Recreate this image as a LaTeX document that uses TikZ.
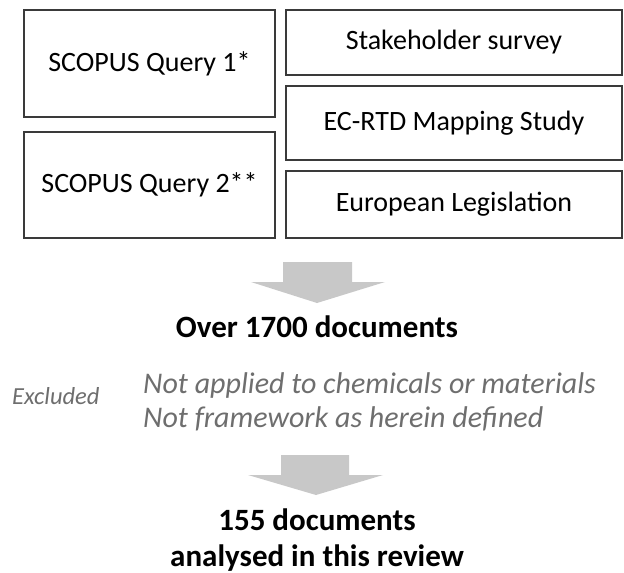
\documentclass[tikz,border=0pt]{standalone}
\usepackage{fontspec}
\setmainfont{Carlito}
\definecolor{boxline}{HTML}{3A3A3A}
\definecolor{arrowfill}{HTML}{C8C8C8}
\definecolor{exgray}{HTML}{6E6E6E}
\begin{document}
\begin{tikzpicture}[x=1pt,y=-1pt,
  srcbox/.style={draw=boxline,line width=1.3pt,fill=white,inner sep=0pt,font=\fontsize{28}{32}\selectfont},
  bigtext/.style={font=\bfseries\fontsize{31}{36}\selectfont,align=center,inner sep=0pt},
  extext/.style={text=exgray,font=\itshape\fontsize{30}{34}\selectfont,align=left,inner sep=0pt,anchor=west},
  flowarrow/.style={fill=arrowfill,draw=none}]
\useasboundingbox (0,0) rectangle (624,573);
% left boxes
\node[srcbox,minimum width=251pt,minimum height=107pt] (q1) at (149.5,63.5) {SCOPUS Query 1*};
\node[srcbox,minimum width=251pt,minimum height=106pt] (q2) at (149.5,185) {SCOPUS Query 2**};
% right boxes
\node[srcbox,minimum width=336pt,minimum height=65pt] (sh) at (454,42.5) {Stakeholder survey};
\node[srcbox,minimum width=336pt,minimum height=74pt] (ec) at (454,123) {EC-RTD Mapping Study};
\node[srcbox,minimum width=336pt,minimum height=67pt] (eu) at (454,204.5) {European Legislation};
% arrow 1
\fill[flowarrow] (283,262) -- (352,262) -- (352,282) -- (385,282) -- (317,303) -- (251,282) -- (283,282) -- cycle;
\node[bigtext] (over) at (317,327) {Over 1700 documents};
% excluded
\node[text=exgray,font=\itshape\fontsize{24.5}{28}\selectfont,inner sep=0pt,anchor=west] (excl) at (12,396) {Excluded};
\node[extext] (ex1) at (143,385) {Not applied to chemicals or materials};
\node[extext] (ex2) at (143,419) {Not framework as herein defined};
% arrow 2
\fill[flowarrow] (281,455) -- (349,455) -- (349,475) -- (383,475) -- (316,495) -- (248,475) -- (281,475) -- cycle;
\node[bigtext] (final) at (317,540) {155 documents\\analysed in this review};
\end{tikzpicture}
\end{document}
